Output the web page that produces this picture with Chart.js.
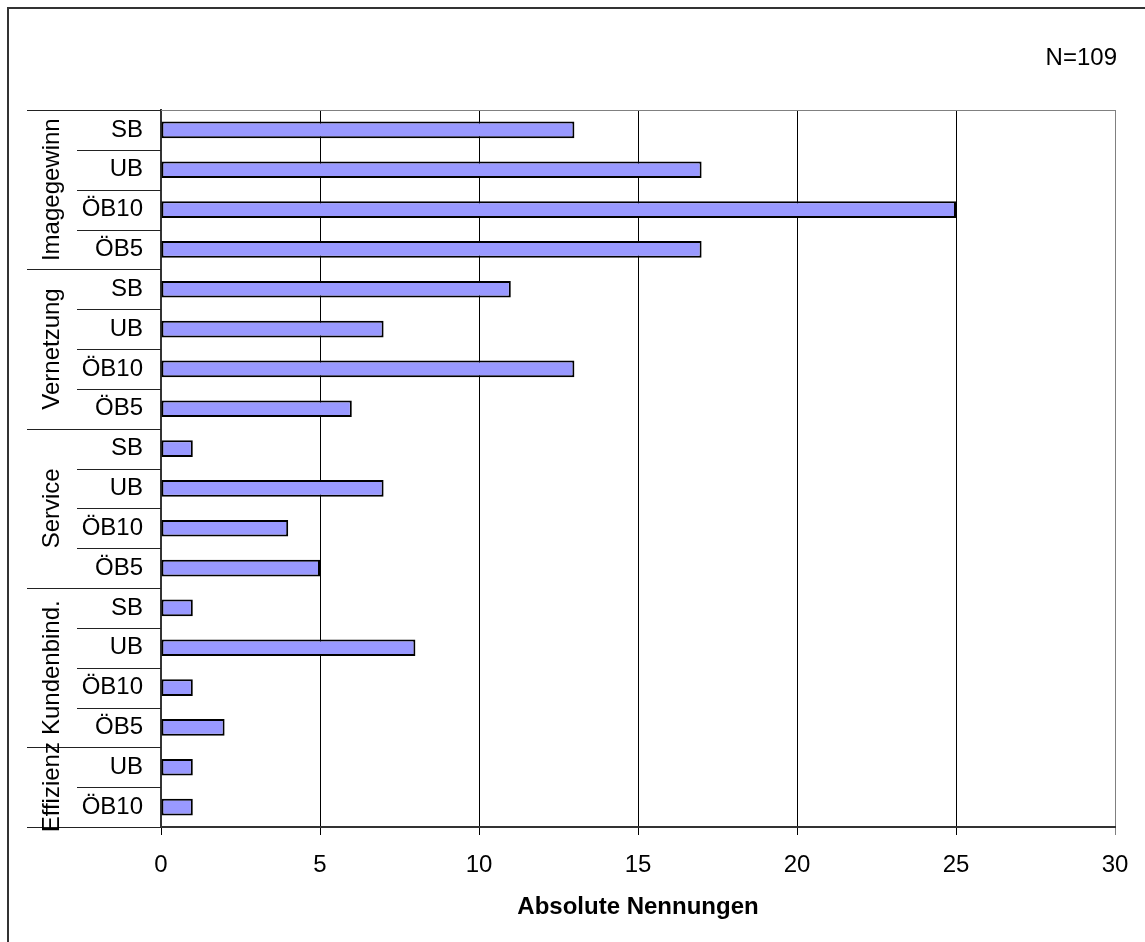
<!DOCTYPE html>
<html>
<head>
<meta charset="utf-8">
<script src="https://cdn.jsdelivr.net/npm/chart.js@4"></script>
<style>
  body { margin: 0; background: #fff; }
  canvas { display: block; }
</style>
</head>
<body>
<canvas id="myChart" width="1145" height="942"></canvas>
<script>
// Data
const groups = ['Imagegewinn', 'Vernetzung', 'Service', 'Kundenbind.', 'Effizienz'];
const groupSizes = [4, 4, 4, 4, 2];
const categories = ['SB', 'UB', 'ÖB10', 'ÖB5', 'SB', 'UB', 'ÖB10', 'ÖB5', 'SB', 'UB', 'ÖB10', 'ÖB5', 'SB', 'UB', 'ÖB10', 'ÖB5', 'UB', 'ÖB10'];
const values = [13, 17, 25, 17, 11, 7, 13, 6, 1, 7, 4, 5, 1, 8, 1, 2, 1, 1];
const xMin = 0, xMax = 30, xStep = 5;
const sampleNote = 'N=109';
const xTitle = 'Absolute Nennungen';

const FONT = '"Liberation Sans", Arial, sans-serif';

// draws frame, note, category separators and group labels
const decorations = {
  id: 'decorations',
  afterDraw(chart) {
    const ctx = chart.ctx;
    const area = chart.chartArea;
    const y = chart.scales.y;
    const half = (y.getPixelForValue(1) - y.getPixelForValue(0)) / 2;

    ctx.save();
    // outer frame (only top and left are inside the picture)
    ctx.strokeStyle = '#333';
    ctx.lineWidth = 2;
    ctx.beginPath();
    ctx.moveTo(8, 950);
    ctx.lineTo(8, 8);
    ctx.lineTo(1150, 8);
    ctx.stroke();

    // top edge of the plot area
    ctx.strokeStyle = '#808080';
    ctx.lineWidth = 1;
    ctx.beginPath();
    ctx.moveTo(area.left, area.top + 0.5);
    ctx.lineTo(area.right, area.top + 0.5);
    ctx.stroke();

    // N=109
    ctx.fillStyle = '#000';
    ctx.font = '24px ' + FONT;
    ctx.textAlign = 'right';
    ctx.textBaseline = 'alphabetic';
    ctx.fillText(sampleNote, 1117, 65);

    // separators
    ctx.strokeStyle = '#222';
    ctx.lineWidth = 1;
    let start = 0;
    const groupEdges = [0];
    groupSizes.forEach(n => { start += n; groupEdges.push(start); });
    for (let i = 0; i <= categories.length; i++) {
      const py = Math.round(y.getPixelForValue(i) - half) + 0.5;
      const x0 = groupEdges.includes(i) ? 27 : 77;
      ctx.beginPath();
      ctx.moveTo(x0, py);
      ctx.lineTo(area.left, py);
      ctx.stroke();
    }

    // group labels
    ctx.font = '24px ' + FONT;
    ctx.textAlign = 'center';
    ctx.textBaseline = 'alphabetic';
    groups.forEach((g, k) => {
      const a = y.getPixelForValue(groupEdges[k]) - half;
      const b = y.getPixelForValue(groupEdges[k + 1]) - half;
      ctx.save();
      ctx.translate(59, (a + b) / 2);
      ctx.rotate(-Math.PI / 2);
      ctx.fillText(g, 0, 0);
      ctx.restore();
    });
    ctx.restore();
  }
};

const ctx = document.getElementById('myChart').getContext('2d');
new Chart(ctx, {
  type: 'bar',
  data: {
    labels: categories,
    datasets: [{
      data: values,
      backgroundColor: '#9999FF',
      borderColor: '#000',
      borderWidth: 2,
      borderSkipped: false,
      barPercentage: 0.42,
      categoryPercentage: 1
    }]
  },
  options: {
    indexAxis: 'y',
    responsive: false,
    devicePixelRatio: 1,
    animation: false,
    layout: { padding: { top: 110, left: 0, right: 30, bottom: 0 } },
    plugins: {
      legend: { display: false },
      tooltip: { enabled: false }
    },
    scales: {
      x: {
        min: xMin,
        max: xMax,
        afterFit: scale => { scale.height = 115; },
        ticks: {
          stepSize: xStep,
          color: '#000',
          padding: 16,
          font: { family: FONT, size: 24 }
        },
        grid: {
          color: c => (c.tick && c.tick.value === xMax ? '#808080' : '#000'),
          lineWidth: 1,
          tickLength: 8
        },
        border: { color: '#333', width: 2 },
        title: {
          display: true,
          text: xTitle,
          color: '#000',
          font: { family: FONT, size: 24, weight: 'bold' },
          padding: { top: 0, bottom: 20 }
        }
      },
      y: {
        afterFit: scale => { scale.width = 161; },
        ticks: {
          color: '#000',
          padding: 18,
          font: { family: FONT, size: 24 }
        },
        grid: { display: false, drawTicks: false },
        border: { color: '#333', width: 2 }
      }
    }
  },
  plugins: [decorations]
});
</script>
</body>
</html>
